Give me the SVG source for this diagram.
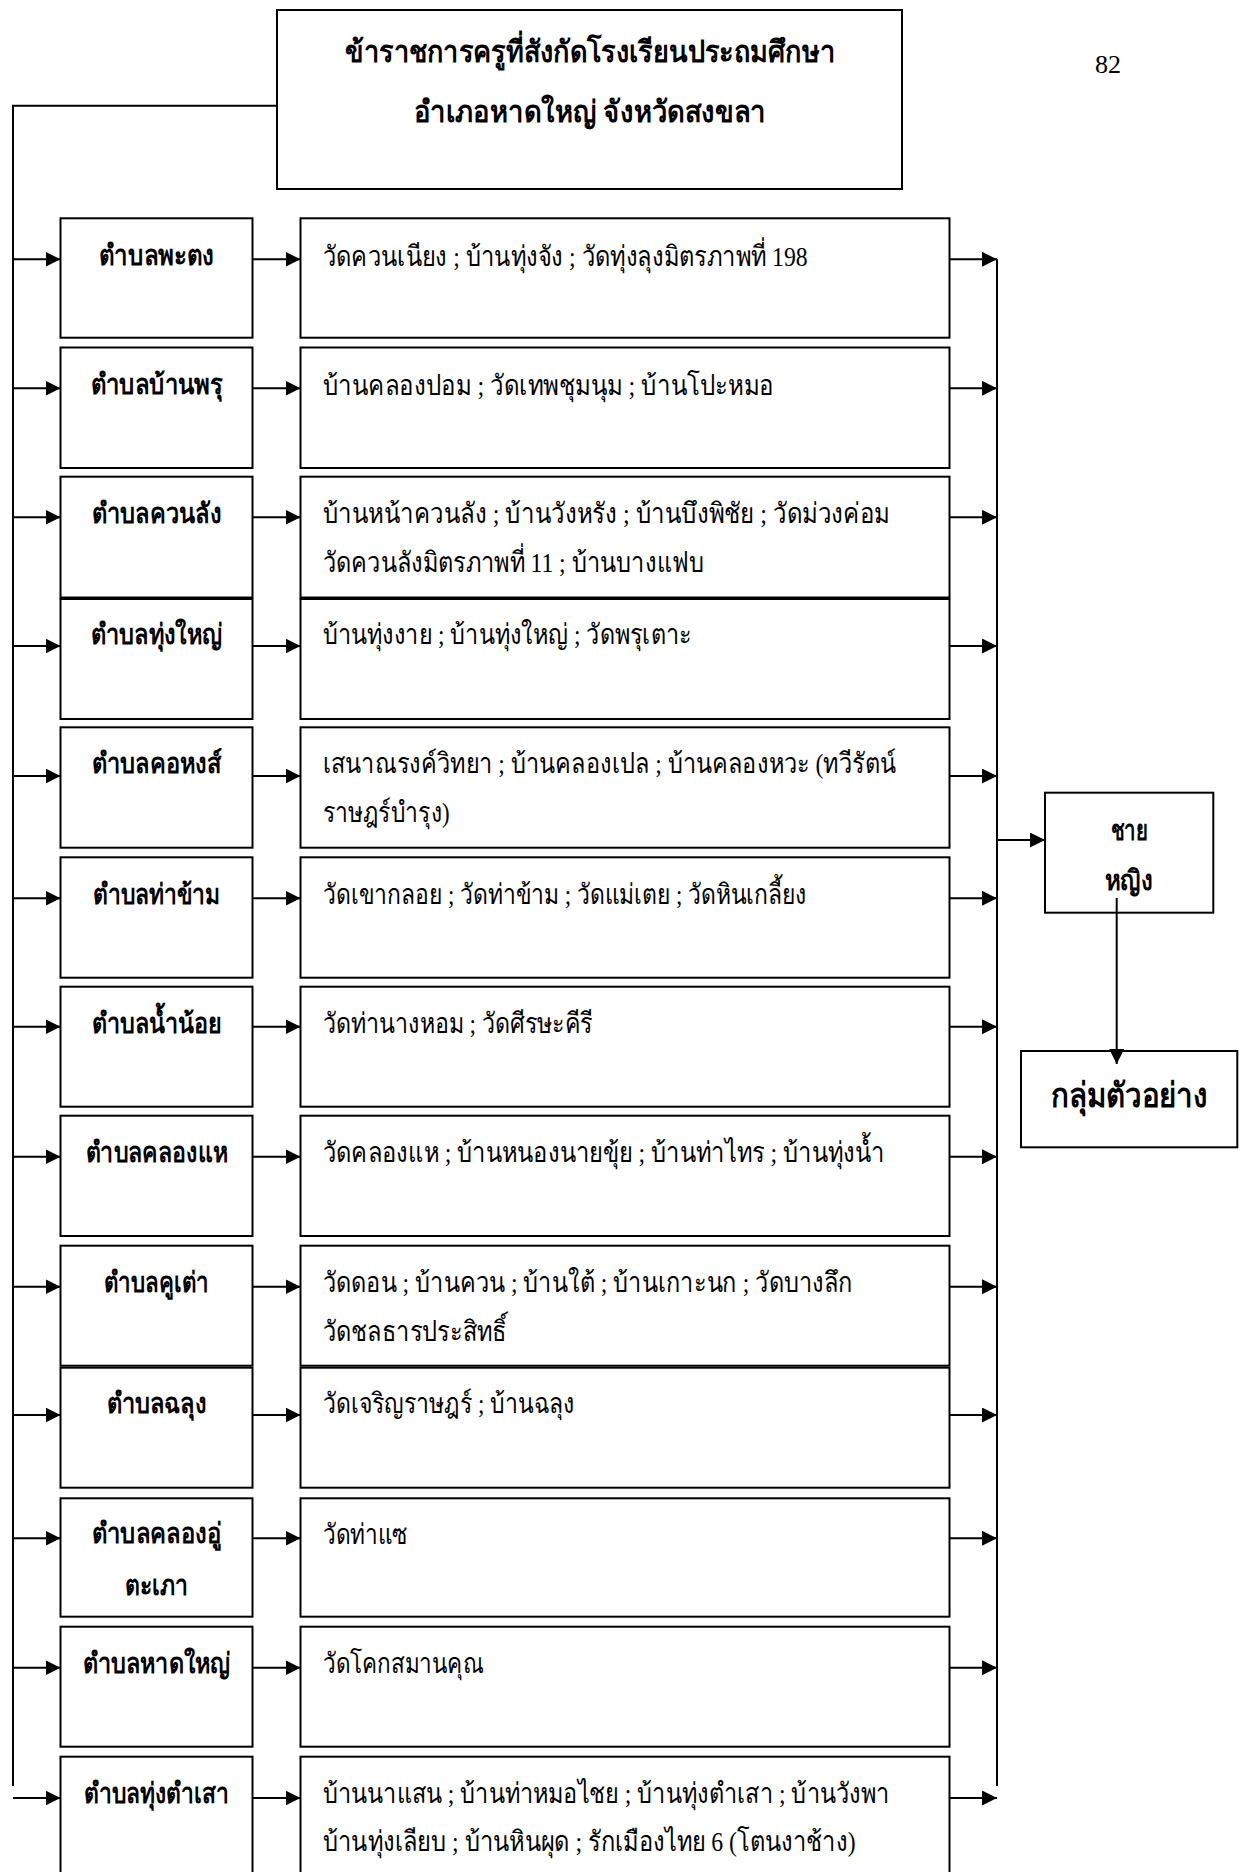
<svg xmlns="http://www.w3.org/2000/svg" width="1240" height="1872" viewBox="0 0 1240 1872">
<style>
.bx{fill:#fff;stroke:#000;stroke-width:2}
.ln{fill:none;stroke:#000;stroke-width:2}
.t{font-family:'Liberation Serif','DejaVu Serif','Noto Sans','Noto Sans CJK SC',serif;font-size:28px;fill:#000}
.b{font-weight:bold}
.m{text-anchor:middle}
</style>
<defs>
<marker id="ah" markerUnits="userSpaceOnUse" markerWidth="16" markerHeight="16" refX="15" refY="7.5" orient="auto"><path d="M0,0 L15,7.5 L0,15 z" fill="#000"/></marker>
</defs>
<rect width="1240" height="1872" fill="#fff"/>
<text class="t" x="1108" y="73" text-anchor="middle" style="font-size:26px" textLength="26" lengthAdjust="spacingAndGlyphs">82</text>

<g id="top">
<rect class="bx" x="277" y="10" width="625" height="179"/>
<text class="t b m" x="590" y="62" style="font-size:30px" textLength="490" lengthAdjust="spacingAndGlyphs">ข้าราชการครูที่สังกัดโรงเรียนประถมศึกษา</text>
<text class="t b m" x="590" y="122" style="font-size:30px" textLength="352" lengthAdjust="spacingAndGlyphs">อำเภอหาดใหญ่  จังหวัดสงขลา</text>
</g>

<g id="d1"><rect class="bx" x="60.5" y="218.3" width="192" height="119.4"/><text class="t b m" x="156.5" y="265" textLength="115" lengthAdjust="spacingAndGlyphs">ตำบลพะตง</text></g>
<g id="s1"><rect class="bx" x="300.5" y="218.3" width="649" height="119.4"/><text class="t" x="322.7" y="266" textLength="485" lengthAdjust="spacingAndGlyphs">วัดควนเนียง ; บ้านทุ่งจัง ; วัดทุ่งลุงมิตรภาพที่ 198</text></g>

<g id="d2"><rect class="bx" x="60.5" y="347.5" width="192" height="120.5"/><text class="t b m" x="156.5" y="394" textLength="132" lengthAdjust="spacingAndGlyphs">ตำบลบ้านพรุ</text></g>
<g id="s2"><rect class="bx" x="300.5" y="347.5" width="649" height="120.5"/><text class="t" x="322.7" y="395" textLength="451" lengthAdjust="spacingAndGlyphs">บ้านคลองปอม ; วัดเทพชุมนุม ; บ้านโปะหมอ</text></g>

<g id="d3"><rect class="bx" x="60.5" y="476.7" width="192" height="120.8"/><text class="t b m" x="156.5" y="523" textLength="130" lengthAdjust="spacingAndGlyphs">ตำบลควนลัง</text></g>
<g id="s3"><rect class="bx" x="300.5" y="476.7" width="649" height="120.8"/><text class="t" x="322.7" y="523" textLength="567" lengthAdjust="spacingAndGlyphs">บ้านหน้าควนลัง ; บ้านวังหรัง ; บ้านบึงพิชัย  ; วัดม่วงค่อม</text><text class="t" x="322.7" y="571.5" textLength="381" lengthAdjust="spacingAndGlyphs">วัดควนลังมิตรภาพที่ 11 ; บ้านบางแฟบ</text></g>

<g id="d4"><rect class="bx" x="60.5" y="599" width="192" height="120"/><text class="t b m" x="156.5" y="644" textLength="132" lengthAdjust="spacingAndGlyphs">ตำบลทุ่งใหญ่</text></g>
<g id="s4"><rect class="bx" x="300.5" y="599" width="649" height="120"/><text class="t" x="322.7" y="644" textLength="369" lengthAdjust="spacingAndGlyphs">บ้านทุ่งงาย ; บ้านทุ่งใหญ่ ; วัดพรุเตาะ</text></g>

<g id="d5"><rect class="bx" x="60.5" y="727.3" width="192" height="120.4"/><text class="t b m" x="156.5" y="773" textLength="130" lengthAdjust="spacingAndGlyphs">ตำบลคอหงส์</text></g>
<g id="s5"><rect class="bx" x="300.5" y="727.3" width="649" height="120.4"/><text class="t" x="322.7" y="773" textLength="573" lengthAdjust="spacingAndGlyphs">เสนาณรงค์วิทยา ; บ้านคลองเปล ; บ้านคลองหวะ (ทวีรัตน์</text><text class="t" x="322.7" y="821.5" textLength="127" lengthAdjust="spacingAndGlyphs">ราษฎร์บำรุง)</text></g>

<g id="d6"><rect class="bx" x="60.5" y="857.3" width="192" height="120.4"/><text class="t b m" x="156.5" y="904" textLength="127" lengthAdjust="spacingAndGlyphs">ตำบลท่าข้าม</text></g>
<g id="s6"><rect class="bx" x="300.5" y="857.3" width="649" height="120.4"/><text class="t" x="322.7" y="904" textLength="484" lengthAdjust="spacingAndGlyphs">วัดเขากลอย ; วัดท่าข้าม ; วัดแม่เตย ; วัดหินเกลี้ยง</text></g>

<g id="d7"><rect class="bx" x="60.5" y="986.7" width="192" height="120"/><text class="t b m" x="156.5" y="1033" textLength="130" lengthAdjust="spacingAndGlyphs">ตำบลน้ำน้อย</text></g>
<g id="s7"><rect class="bx" x="300.5" y="986.7" width="649" height="120"/><text class="t" x="322.7" y="1033" textLength="270" lengthAdjust="spacingAndGlyphs">วัดท่านางหอม ; วัดศีรษะคีรี</text></g>

<g id="d8"><rect class="bx" x="60.5" y="1115.7" width="192" height="120.3"/><text class="t b m" x="156.5" y="1162" textLength="142" lengthAdjust="spacingAndGlyphs">ตำบลคลองแห</text></g>
<g id="s8"><rect class="bx" x="300.5" y="1115.7" width="649" height="120.3"/><text class="t" x="322.7" y="1162" textLength="562" lengthAdjust="spacingAndGlyphs">วัดคลองแห ; บ้านหนองนายขุ้ย ; บ้านท่าไทร ; บ้านทุ่งน้ำ</text></g>

<g id="d9"><rect class="bx" x="60.5" y="1245.7" width="192" height="120"/><text class="t b m" x="156.5" y="1292" textLength="105" lengthAdjust="spacingAndGlyphs">ตำบลคูเต่า</text></g>
<g id="s9"><rect class="bx" x="300.5" y="1245.7" width="649" height="120"/><text class="t" x="322.7" y="1292" textLength="530" lengthAdjust="spacingAndGlyphs">วัดดอน ; บ้านควน ; บ้านใต้ ; บ้านเกาะนก ; วัดบางลึก</text><text class="t" x="322.7" y="1340.5" textLength="184" lengthAdjust="spacingAndGlyphs">วัดชลธารประสิทธิ์</text></g>

<g id="d10"><rect class="bx" x="60.5" y="1367.7" width="192" height="120"/><text class="t b m" x="156.5" y="1413" textLength="100" lengthAdjust="spacingAndGlyphs">ตำบลฉลุง</text></g>
<g id="s10"><rect class="bx" x="300.5" y="1367.7" width="649" height="120"/><text class="t" x="322.7" y="1413" textLength="252" lengthAdjust="spacingAndGlyphs">วัดเจริญราษฎร์ ; บ้านฉลุง</text></g>

<g id="d11"><rect class="bx" x="60.5" y="1498.3" width="192" height="118.4"/><text class="t b m" x="156.5" y="1543" textLength="130" lengthAdjust="spacingAndGlyphs">ตำบลคลองอู่</text><text class="t b m" x="156.5" y="1595" textLength="63" lengthAdjust="spacingAndGlyphs">ตะเภา</text></g>
<g id="s11"><rect class="bx" x="300.5" y="1498.3" width="649" height="118.4"/><text class="t" x="322.7" y="1544" textLength="85" lengthAdjust="spacingAndGlyphs">วัดท่าแซ</text></g>

<g id="d12"><rect class="bx" x="60.5" y="1626.7" width="192" height="120"/><text class="t b m" x="156.5" y="1673" textLength="148" lengthAdjust="spacingAndGlyphs">ตำบลหาดใหญ่</text></g>
<g id="s12"><rect class="bx" x="300.5" y="1626.7" width="649" height="120"/><text class="t" x="322.7" y="1673" textLength="161" lengthAdjust="spacingAndGlyphs">วัดโคกสมานคุณ</text></g>

<g id="d13"><rect class="bx" x="60.5" y="1756.7" width="192" height="125"/><text class="t b m" x="156.5" y="1803" textLength="145" lengthAdjust="spacingAndGlyphs">ตำบลทุ่งตำเสา</text></g>
<g id="s13"><rect class="bx" x="300.5" y="1756.7" width="649" height="125"/><text class="t" x="322.7" y="1803" textLength="567" lengthAdjust="spacingAndGlyphs">บ้านนาแสน ; บ้านท่าหมอไชย ; บ้านทุ่งตำเสา ; บ้านวังพา</text><text class="t" x="322.7" y="1851" textLength="533" lengthAdjust="spacingAndGlyphs">บ้านทุ่งเลียบ ; บ้านหินผุด ; รักเมืองไทย 6 (โตนงาช้าง)</text></g>

<g id="sex"><rect class="bx" x="1045" y="792.7" width="168.3" height="120"/><text class="t b m" x="1129" y="840" textLength="37" lengthAdjust="spacingAndGlyphs">ชาย</text><text class="t b m" x="1129" y="890" textLength="48" lengthAdjust="spacingAndGlyphs">หญิง</text></g>

<g id="sample"><rect class="bx" x="1021" y="1051" width="216.3" height="96.3"/><text class="t b m" x="1129" y="1107" style="font-size:34px" textLength="157" lengthAdjust="spacingAndGlyphs">กลุ่มตัวอย่าง</text></g>

<g id="connectors">
<path class="ln" d="M277,105.7 H13 V1786"/>
<path class="ln" d="M997,259.3 V1786"/>
<g marker-end="url(#ah)">
<path class="ln" d="M13,259.3 H60.5"/><path class="ln" d="M252.5,259.3 H300.5"/><path class="ln" d="M949.5,259.3 H997"/>
<path class="ln" d="M13,388.3 H60.5"/><path class="ln" d="M252.5,388.3 H300.5"/><path class="ln" d="M949.5,388.3 H997"/>
<path class="ln" d="M13,517.3 H60.5"/><path class="ln" d="M252.5,517.3 H300.5"/><path class="ln" d="M949.5,517.3 H997"/>
<path class="ln" d="M13,646 H60.5"/><path class="ln" d="M252.5,646 H300.5"/><path class="ln" d="M949.5,646 H997"/>
<path class="ln" d="M13,776 H60.5"/><path class="ln" d="M252.5,776 H300.5"/><path class="ln" d="M949.5,776 H997"/>
<path class="ln" d="M13,898.3 H60.5"/><path class="ln" d="M252.5,898.3 H300.5"/><path class="ln" d="M949.5,898.3 H997"/>
<path class="ln" d="M13,1026.7 H60.5"/><path class="ln" d="M252.5,1026.7 H300.5"/><path class="ln" d="M949.5,1026.7 H997"/>
<path class="ln" d="M13,1156.7 H60.5"/><path class="ln" d="M252.5,1156.7 H300.5"/><path class="ln" d="M949.5,1156.7 H997"/>
<path class="ln" d="M13,1286.7 H60.5"/><path class="ln" d="M252.5,1286.7 H300.5"/><path class="ln" d="M949.5,1286.7 H997"/>
<path class="ln" d="M13,1415 H60.5"/><path class="ln" d="M252.5,1415 H300.5"/><path class="ln" d="M949.5,1415 H997"/>
<path class="ln" d="M13,1538.3 H60.5"/><path class="ln" d="M252.5,1538.3 H300.5"/><path class="ln" d="M949.5,1538.3 H997"/>
<path class="ln" d="M13,1667.7 H60.5"/><path class="ln" d="M252.5,1667.7 H300.5"/><path class="ln" d="M949.5,1667.7 H997"/>
<path class="ln" d="M13,1798 H60.5"/><path class="ln" d="M252.5,1798 H300.5"/><path class="ln" d="M949.5,1798 H997"/>
<path class="ln" d="M997,840 H1045"/>
<path class="ln" d="M1116.7,898 V1064"/>
</g>
</g>
</svg>
